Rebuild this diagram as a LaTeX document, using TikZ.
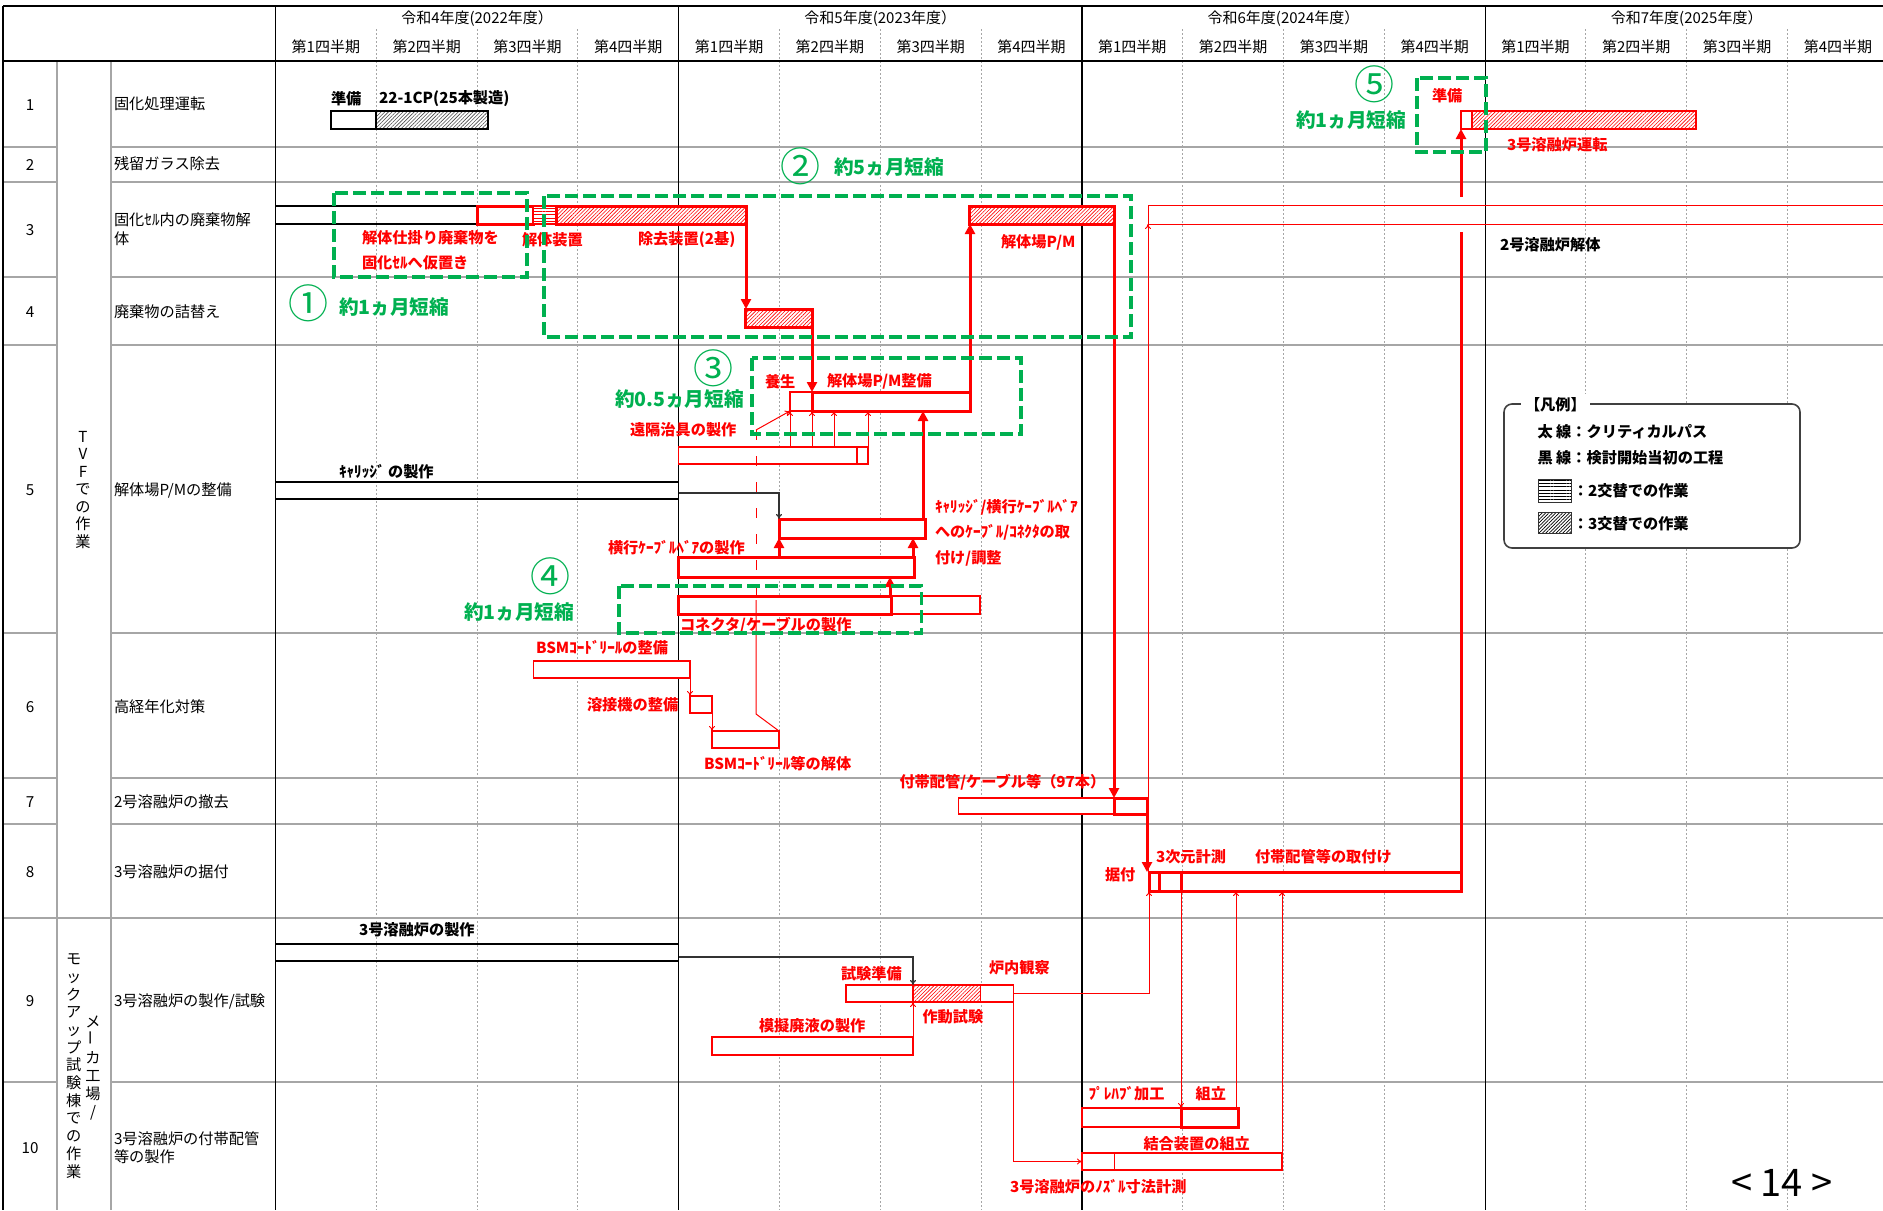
\documentclass[tikz,border=0pt]{standalone}
\usepackage{fontspec}
\setmainfont{Noto Sans CJK JP}
\usetikzlibrary{fit,patterns.meta,arrows.meta}

\definecolor{redc}{HTML}{FF0000}
\definecolor{grn}{HTML}{00B050}
\definecolor{gridg}{HTML}{A6A6A6}

\newcommand{\fsH}{\fontsize{7.5pt}{9pt}\selectfont}
\newcommand{\fsT}{\fontsize{7.6pt}{9pt}\selectfont}
\newcommand{\fsR}{\fontsize{7.6pt}{9pt}\selectfont\bfseries}
\newcommand{\fsG}{\fontsize{9.8pt}{11pt}\selectfont\bfseries}
\newcommand{\fsC}{\fontsize{20pt}{22pt}\selectfont}

\begin{document}
\begin{tikzpicture}[
    x=0.5pt, y=-0.5pt,
    every node/.style={inner sep=0pt, outer sep=0pt},
    rowline/.style={draw=gridg, line width=0.6pt},
    qline/.style={draw=gridg, line width=0.5pt, dash pattern=on 1pt off 1pt},
    yearline/.style={draw=black, line width=0.6pt},
    task/.style={anchor=west, font=\fsT, align=left},
    blab/.style={anchor=west, font=\fsR},
    rlab/.style={anchor=west, text=redc, font=\fsR, align=left},
    glab/.style={anchor=west, text=grn, font=\fsG},
    cnum/.style={text=grn, font=\fsC},
    plan/.style={draw=black, line width=0.6pt},
    kbar/.style={draw=black, line width=1pt, fill=white},
    kpat/.style={draw=black, line width=1pt, preaction={fill=white}, pattern={Lines[angle=45,distance=1.3pt,line width=0.3pt]}, pattern color=black!70},
    tbar/.style={draw=redc, line width=0.6pt, fill=white},
    tpat/.style={draw=redc, line width=0.6pt, preaction={fill=white}, pattern={Lines[angle=45,distance=1.3pt,line width=0.3pt]}, pattern color=redc},
    mbar/.style={draw=redc, line width=1pt, fill=white},
    mpat/.style={draw=redc, line width=1pt, preaction={fill=white}, pattern={Lines[angle=45,distance=1.3pt,line width=0.3pt]}, pattern color=redc},
    cbar/.style={draw=redc, line width=1.5pt, fill=white},
    cpat/.style={draw=redc, line width=1.5pt, preaction={fill=white}, pattern={Lines[angle=45,distance=1.3pt,line width=0.3pt]}, pattern color=redc},
    cstripe/.style={draw=redc, line width=1.2pt, preaction={fill=white}, pattern={Lines[angle=0,distance=1.6pt,line width=0.35pt]}, pattern color=redc},
    critline/.style={draw=redc, line width=1.5pt},
    critarrow/.style={draw=redc, line width=1.5pt, -{Triangle[length=5pt,width=5pt]}},
    tline/.style={draw=redc, line width=0.5pt},
    tarrow/.style={draw=redc, line width=0.5pt, -{To[length=2.5pt,width=3pt]}},
    karrow/.style={draw=black!80, line width=0.6pt, -{To[length=2.5pt,width=3pt]}},
    gbox/.style={draw=grn, line width=1.7pt, dash pattern=on 6.5pt off 2.5pt}
  ]
  \useasboundingbox (0,0) rectangle (1883,1210);

  % Grid
  \foreach \y in {147,182,277,345,633,778,824,1082}
    \draw[rowline] (3,\y) -- (57,\y) (111,\y) -- (1883,\y);
  \draw[rowline] (3,918) -- (1883,918);
  \draw[rowline] (57,61) -- (57,1210) (111,61) -- (111,1210);
  \foreach \i in {1,2,3,5,6,7,9,10,11,13,14,15}
    \draw[qline] (275.5+100.8*\i,29) -- (275.5+100.8*\i,1210);
  \foreach \i in {0,4,8,12}
    \draw[yearline] (275.5+100.8*\i,6) -- (275.5+100.8*\i,1210);
  \draw[line width=1.1pt] (3,6) -- (1883,6) (3,61) -- (1883,61);
  \draw[line width=1.1pt] (3,6) -- (3,1210);

  % Header
  \foreach \k/\txt in {0/{令和4年度(2022年度）},1/{令和5年度(2023年度）},2/{令和6年度(2024年度）},3/{令和7年度(2025年度）}}
    \node[font=\fsH] (yr\k) at (477.1+403.2*\k,19) {\txt};
  \foreach \i in {0,...,15} {
    \pgfmathtruncatemacro{\qn}{mod(\i,4)+1}
    \node[font=\fsH] (q\i) at (325.9+100.8*\i,47) {第\qn 四半期};
  }

  % Rows
  \foreach \n/\y in {1/105,2/165,3/230,4/312,5/490,6/707,7/802,8/872,9/1001,10/1148}
    \node[font=\fsT] (n\n) at (30,\y) {\n};
  \node[task] (t1) at (114,104) {固化処理運転};
  \node[task] (t2) at (114,164) {残留ガラス除去};
  \node[task, font={\fontsize{7.6pt}{9.5pt}\selectfont}] (t3) at (114,229.5) {固化ｾﾙ内の廃棄物解\\体};
  \node[task] (t4) at (114,312) {廃棄物の詰替え};
  \node[task] (t5) at (114,490) {解体場P/Mの整備};
  \node[task] (t6) at (114,707) {高経年化対策};
  \node[task] (t7) at (114,802) {2号溶融炉の撤去};
  \node[task] (t8) at (114,872) {3号溶融炉の据付};
  \node[task] (t9) at (114,1001) {3号溶融炉の製作/試験};
  \node[task, font={\fontsize{7.6pt}{9pt}\selectfont}] (t10) at (114,1148) {3号溶融炉の付帯配管\\等の製作};
  \node[font={\fontsize{7.6pt}{8.75pt}\selectfont}, align=center] (grpA) at (83,490) {T\\V\\F\\で\\の\\作\\業};
  \node[font={\fontsize{7.6pt}{8.85pt}\selectfont}, align=center] (grpB) at (73.7,1066) {モ\\ッ\\ク\\ア\\ッ\\プ\\試\\験\\棟\\で\\の\\作\\業};
  \node[font={\fontsize{7.6pt}{9pt}\selectfont}, align=center] (grpC) at (93,1068) {メ\\\rotatebox{90}{ー}\\カ\\工\\場\\/};

  % Legend
  \node[draw=black!75, line width=0.8pt, rounded corners=4pt, fill=white, fit={(1504,404) (1800,548)}] (legend) {};
  \node[blab, fill=white, inner xsep=2pt, inner ysep=2pt] (legt) at (1521,405) {【凡例】};
  \node[blab] (lg1) at (1537.5,432) {太 線：クリティカルパス};
  \node[blab] (lg2) at (1537.5,458) {黒 線：検討開始当初の工程};
  \node[draw=black!80, line width=0.5pt, pattern={Lines[angle=0,distance=1.6pt,line width=0.35pt]}, fit={(1538,479) (1571.5,502)}] (sw2) {};
  \node[draw=black!80, line width=0.5pt, pattern={Lines[angle=45,distance=1.2pt,line width=0.35pt]}, fit={(1538,512) (1571.5,533)}] (sw3) {};
  \node[blab] (lg3) at (1573,491) {：2交替での作業};
  \node[blab] (lg4) at (1573,524) {：3交替での作業};

  % Plan bars (black)
  \node[kbar, fit={(331,111) (376,129)}] (prepA) {};
  \node[kpat, fit={(376,111) (488,129)}] (runA) {};
  \node[plan, fit={(275.5,206) (477,224)}] (dism0) {};
  \node[plan, fit={(275.5,482) (678.6,499)}] (carr) {};
  \node[plan, fit={(275.5,944) (678.6,961)}] (mfg) {};

  % Red bars
  \node[mbar, fit={(1461,111) (1472,129)}] (prepB) {};
  \node[mpat, fit={(1472,111) (1696,129)}] (runB) {};
  \node[cbar, fit={(477,206) (533,224)}] (r3a) {};
  \node[cstripe, fit={(533,206) (556,224)}] (r3b) {};
  \node[cpat, fit={(556,206) (746,224)}] (r3c) {};
  \node[cpat, fit={(969,206) (1114,224)}] (r3d) {};
  \draw[tline] (1884,205) -- (1148,205) -- (1148,224) -- (1884,224);
  \coordinate (r3e) at (1148,224);
  \node[cpat, fit={(745,309) (812,327)}] (r4) {};
  \node[tbar, fit={(790,392) (812,411)}] (cure) {};
  \node[cbar, fit={(812,392) (970,411)}] (pmw) {};
  \node[tbar, fit={(678.5,447) (857,464)}] (jig) {};
  \node[tbar, fit={(857,447) (868,464)}] (jig2) {};
  \node[cbar, fit={(779,519) (925,538)}] (cab) {};
  \node[cbar, fit={(678.5,557) (914,577)}] (tray) {};
  \node[tbar, fit={(891,596) (980,614)}] (conn2) {};
  \node[cbar, fit={(678.5,596) (891,614)}] (conn) {};
  \node[tbar, fit={(533.5,661) (690,678)}] (bsm) {};
  \node[tbar, fit={(690,696) (712,713)}] (weld) {};
  \node[tbar, fit={(712,731) (779,748)}] (bsmd) {};
  \node[tbar, fit={(958.5,798) (1114,814)}] (r7a) {};
  \node[cbar, fit={(1114,798) (1147,814)}] (r7b) {};
  \node[cbar, fit={(1149,872) (1159,891)}] (r8a) {};
  \node[cbar, fit={(1159,872) (1181,891)}] (r8b) {};
  \node[cbar, fit={(1181,872) (1461,891)}] (r8c) {};
  \node[tbar, fit={(846,985) (913,1002)}] (prep9) {};
  \node[tpat, fit={(913,985) (980.5,1002)}] (op9) {};
  \node[tbar, fit={(980.5,985) (1013.6,1002)}] (obs9) {};
  \node[tbar, fit={(712,1037) (913,1055)}] (sim) {};
  \node[tbar, fit={(1082,1108) (1181,1127)}] (fab) {};
  \node[cbar, fit={(1181,1108) (1238,1127)}] (asm) {};
  \node[tbar, fit={(1082,1153) (1114.5,1170)}] (jn1) {};
  \node[tbar, fit={(1114.5,1153) (1282,1170)}] (jn2) {};

  % Arrows
  \draw[critarrow] (r3c.south east) -- (r3c.south east |- r4.north);
  \draw[critarrow] (r4.south east) -- (r4.south east |- pmw.north);
  \draw[critarrow] (pmw.north east) -- (pmw.north east |- r3d.south);
  \draw[critarrow] (r3d.south east) -- (r3d.south east |- r7b.north);
  \draw[critarrow] (r7b.south east) -- (r7b.south east |- r8a.north);
  \coordinate (gapA) at (1461,232);
  \coordinate (gapB) at (1461,197);
  \draw[critline] (r8c.north east) -- (gapA);
  \draw[critarrow] (gapB) -- (gapB |- prepB.south);
  \draw[critarrow] ([xshift=-1pt]cab.north east) -- ([xshift=-1pt]cab.north east |- pmw.south);
  \draw[critarrow] (tray.north -| cab.west) -- (cab.south west);
  \draw[critarrow] ([xshift=-0.5pt]tray.north east) -- ([xshift=-0.5pt]tray.north east |- cab.south);
  \draw[critarrow] ([xshift=-0.5pt]conn.north east) -- ([xshift=-0.5pt]conn.north east |- tray.south);
  \draw[tarrow] (jig.north -| cure.west) -- (cure.south west);
  \draw[tarrow] (jig.north -| pmw.west) -- (pmw.south west);
  \draw[tarrow] ([xshift=11pt]jig.north -| pmw.west) -- ([xshift=11pt]pmw.south west);
  \draw[tarrow] (jig2.north east) -- (jig2.north east |- pmw.south);
  \coordinate (tapA) at (756,430);
  \coordinate (tapB) at (756,600);
  \coordinate (tapC) at (756,714);
  \draw[tarrow] (tapA) -- (cure.south west);
  \draw[tline, dash pattern=on 5pt off 8pt] (tapA) -- (tapB);
  \draw[tline] (tapB) -- (tapC) -- (bsmd.north east);
  \draw[tarrow] (bsm.south east) -- (weld.north west);
  \draw[tarrow] (weld.south east) -- (bsmd.north west);
  \draw[karrow] ([yshift=-1.2pt]carr.east) -- ([yshift=-1.2pt]carr.east -| cab.west) -- (cab.north west);
  \draw[karrow] ([yshift=-2.2pt]mfg.east) -- ([yshift=-2.2pt]mfg.east -| prep9.east) -- (prep9.north east);
  \draw[tarrow] (sim.north east) -- (sim.north east |- prep9.south);
  \draw[tarrow] (obs9.east) -- (obs9.east -| r8a.west) -- (r8a.south west);
  \draw[tarrow] (obs9.south east) -- (obs9.south east |- jn1.west) -- (jn1.west);
  \draw[tarrow] ([xshift=-0.5pt]r8a.north west) -- ([xshift=-0.5pt]r8a.north west |- r3e);
  \draw[tarrow] (r8b.south east) -- (r8b.south east |- asm.north);
  \draw[tarrow] ([xshift=-1pt]asm.north east) -- ([xshift=-1pt]asm.north east |- r8c.south);
  \draw[tarrow] (jn2.north east) -- (jn2.north east |- r8c.south);

  % Labels
  \node[blab] (l1a) at (331,99) {準備};
  \node[blab] (l1b) at (379,99) {22-1CP(25本製造)};
  \node[blab] (l5a) at (339,472) {ｷｬﾘｯｼﾞ の製作};
  \node[blab] (l9a) at (359,930) {3号溶融炉の製作};
  \node[blab] (l3z) at (1500,245) {2号溶融炉解体};
  \node[rlab] (l1c) at (1432,96) {準備};
  \node[rlab] (l1d) at (1507,145) {3号溶融炉運転};
  \node[rlab, font={\fontsize{7.6pt}{12.5pt}\selectfont\bfseries}] (l3a) at (362,250.5) {解体仕掛り廃棄物を\\固化ｾﾙへ仮置き};
  \node[rlab] (l3b) at (522,240) {解体装置};
  \node[rlab] (l3c) at (638,240) {除去装置(2基)};
  \node[rlab] (l3d) at (1001,242) {解体場P/M};
  \node[rlab] (l5b) at (765,382) {養生};
  \node[rlab] (l5c) at (827,381) {解体場P/M整備};
  \node[rlab] (l5d) at (630,430) {遠隔治具の製作};
  \node[rlab, font={\fontsize{7.6pt}{12.75pt}\selectfont\bfseries}] (l5e) at (935,532.5) {ｷｬﾘｯｼﾞ/横行ｹｰﾌﾞﾙﾍﾞｱ\\へのｹｰﾌﾞﾙ/ｺﾈｸﾀの取\\付け/調整};
  \node[rlab] (l5f) at (608,548) {横行ｹｰﾌﾞﾙﾍﾞｱの製作};
  \node[rlab] (l5g) at (680,625) {コネクタ/ケーブルの製作};
  \node[rlab] (l6a) at (536,648) {BSMｺｰﾄﾞﾘｰﾙの整備};
  \node[rlab] (l6b) at (587,705) {溶接機の整備};
  \node[rlab] (l6c) at (704,764) {BSMｺｰﾄﾞﾘｰﾙ等の解体};
  \node[rlab] (l7a) at (899.5,782) {付帯配管/ケーブル等（97本）};
  \node[rlab] (l8a) at (1105,875) {据付};
  \node[rlab] (l8b) at (1156,857) {3次元計測};
  \node[rlab] (l8c) at (1255,857) {付帯配管等の取付け};
  \node[rlab] (l9b) at (841,974) {試験準備};
  \node[rlab] (l9c) at (989,968) {炉内観察};
  \node[rlab] (l9d) at (922.5,1017) {作動試験};
  \node[rlab] (l9e) at (759,1026) {模擬廃液の製作};
  \node[rlab] (l10a) at (1088.6,1094) {ﾌﾟﾚﾊﾌﾞ加工};
  \node[rlab] (l10b) at (1195.7,1094) {組立};
  \node[rlab] (l10c) at (1143.5,1144) {結合装置の組立};
  \node[rlab] (l10d) at (1010,1187) {3号溶融炉のﾉｽﾞﾙ寸法計測};

  % Shortening boxes
  \draw[gbox] (334,193) rectangle (527,277);
  \draw[gbox] (544,196) rectangle (1131,337);
  \draw[gbox] (752,358) rectangle (1021,434);
  \draw[gbox] (619,586) rectangle (921.5,633);
  \draw[gbox] (1417,78) rectangle (1486,152);
  \node[cnum] (c1) at (308,303) {①};
  \node[glab] (g1) at (339,307) {約1ヵ月短縮};
  \node[cnum] (c2) at (800,166) {②};
  \node[glab] (g2) at (834,167) {約5ヵ月短縮};
  \node[cnum] (c3) at (713,368) {③};
  \node[glab] (g3) at (615,399) {約0.5ヵ月短縮};
  \node[cnum] (c4) at (550,576) {④};
  \node[glab] (g4) at (464,612) {約1ヵ月短縮};
  \node[cnum] (c5) at (1374,84) {⑤};
  \node[glab] (g5) at (1296,120) {約1ヵ月短縮};

  \node[font=\fontsize{19pt}{21pt}\selectfont] (page) at (1782,1183) {< 14 >};
\end{tikzpicture}
\end{document}
